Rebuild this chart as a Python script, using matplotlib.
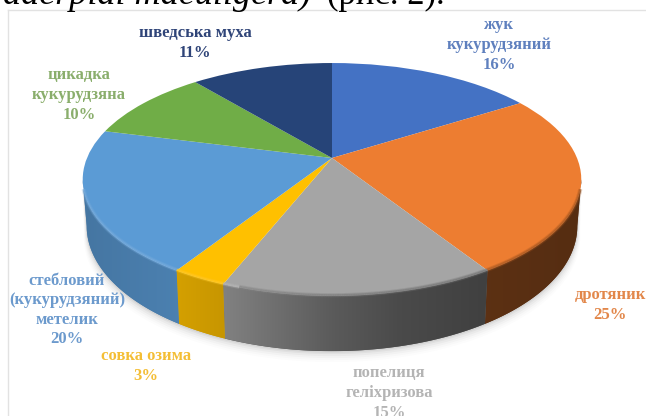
import numpy as np
import matplotlib
matplotlib.use("Agg")
import matplotlib.pyplot as plt
from matplotlib.collections import LineCollection
from matplotlib.patches import Polygon
from matplotlib.path import Path
from matplotlib.transforms import Transform

plt.rcParams["font.family"] = ["Liberation Serif", "DejaVu Serif"]

# Shares of maize pests, percent, clockwise from twelve o'clock
pests = ["жук\nкукурудзяний", "дротяник", "попелиця\nгеліхризова", "совка озима",
         "стебловий\n(кукурудзяний)\nметелик", "цикадка\nкукурудзяна", "шведська муха"]
shares = [16, 25, 15, 3, 20, 10, 11]
top_colors = ["#4472C4", "#ED7D31", "#A5A5A5", "#FFC000", "#5B9BD5", "#70AD47", "#264478"]
label_colors = ["#5F80BE", "#E2874A", "#B4B4B4", "#F4BE35", "#6C9ACD", "#8AAE6C", "#2F4478"]
label_anchors = [(499, 45), (610, 305), (389, 393), (146, 366), (67, 310), (79, 95), (195, 43)]

# Rim geometry of the tilted disc, in figure pixels
APEX_X, APEX_Y = 332.0, 158.0
RADIUS_X, RADIUS_Y = 245.0, 112.5
PERSPECTIVE = 0.1845
WALL = 45.0
BASE_SHRINK = 0.984

# Wall brightness against horizontal position
SHADE_X = [83, 180, 225, 332, 400, 483, 581]
SHADE_F = [0.76, 0.83, 0.78, 0.55, 0.45, 0.39, 0.36]

# Clockwise angles at which the rim reaches its widest points
SIDE_RIGHT = np.pi - np.arccos(PERSPECTIVE)
SIDE_LEFT = np.pi + np.arccos(PERSPECTIVE)
BEVEL_INSET = np.radians(5)


class TiltedDisc(Transform):
    """Projects the unit-circle plane of a pie onto the tilted disc in pixels."""
    input_dims = output_dims = 2

    def transform_non_affine(self, values):
        values = np.asarray(values, dtype=float)
        u, v = values[:, 0], values[:, 1]
        w = 1 + PERSPECTIVE * v
        return np.column_stack([APEX_X + RADIUS_X * u / w, APEX_Y - RADIUS_Y * v / w])

    def transform_path_non_affine(self, path):
        return Path(self.transform_non_affine(path.vertices), path.codes)


def rim(theta):
    """Top and bottom rim points for clockwise angles from twelve o'clock."""
    s, c = np.sin(theta), np.cos(theta)
    w = 1 + PERSPECTIVE * c
    x = APEX_X + RADIUS_X * s / w
    y = APEX_Y - RADIUS_Y * c / w
    xb = APEX_X + BASE_SHRINK * (x - APEX_X)
    yb = y + WALL / w
    return x, y, xb, yb


def tint(color, factor):
    rgb = np.array(matplotlib.colors.to_rgb(color))
    return tuple(np.clip(rgb * factor, 0, 1))


def mix_white(color, amount):
    rgb = np.array(matplotlib.colors.to_rgb(color))
    return tuple(rgb + (1 - rgb) * amount)


fig = plt.figure(figsize=(6.46, 4.16), dpi=100)
ax = fig.add_axes([0, 0, 1, 1])

wedges, _ = ax.pie(shares, colors=top_colors, startangle=90, counterclock=False,
                   radius=1, normalize=True)

disc = TiltedDisc() + ax.transData
for wedge in wedges:
    wedge.set_transform(disc)
    wedge.set_zorder(5)
    wedge.set_edgecolor("none")

# Clockwise wedge limits, taken from the pie itself
ends = [(np.radians(90 - w.theta2), np.radians(90 - w.theta1)) for w in wedges]

# Soft shadow under the front of the disc
front = np.linspace(SIDE_RIGHT, SIDE_LEFT, 240)
xt, yt, xb, yb = rim(front)
for grow, alpha in zip([11, 9, 7, 5, 3, 1.5], [0.012, 0.016, 0.022, 0.03, 0.04, 0.05]):
    cx = APEX_X + (xb - APEX_X) * (1 + grow / 900)
    pts = np.column_stack([np.r_[cx, xt[::-1]], np.r_[yb + grow, yt[::-1]]])
    ax.add_patch(Polygon(pts, closed=True, fc="black", ec="none", alpha=alpha, zorder=1))

# Wall: one clipped horizontal gradient per slice, tucked under the top face
for (t0, t1), color in zip(ends, top_colors):
    lo, hi = max(t0, SIDE_RIGHT), min(t1, SIDE_LEFT)
    if hi <= lo:
        continue
    th = np.linspace(lo, hi, 120)
    x, y, xb, yb = rim(th)
    outline = np.column_stack([np.r_[x, xb[::-1]], np.r_[y, yb[::-1]]])
    patch = Polygon(outline, closed=True, fc=tint(color, np.interp(x.mean(), SHADE_X, SHADE_F)),
                    ec="none", zorder=2.5)
    ax.add_patch(patch)
    left, right = outline[:, 0].min(), outline[:, 0].max()
    columns = np.linspace(left, right, 256)
    ramp = np.array([[tint(color, np.interp(c, SHADE_X, SHADE_F)) for c in columns]])
    image = ax.imshow(ramp, extent=(left, right, outline[:, 1].max(), outline[:, 1].min()),
                      aspect="auto", interpolation="bilinear", zorder=3)
    image.set_clip_path(patch)

# Bevel along the rim: lit towards the left, shaded towards the right
for (t0, t1), color in zip(ends, top_colors):
    lo, hi = max(t0, SIDE_RIGHT + BEVEL_INSET), min(t1, SIDE_LEFT - BEVEL_INSET)
    if hi <= lo:
        continue
    th = np.linspace(lo, hi, 160)
    x, y, _, _ = rim(th)
    segments = np.stack([np.column_stack([x[:-1], y[:-1] - 0.7]),
                         np.column_stack([x[1:], y[1:] - 0.7])], axis=1)
    tones = []
    for px in (x[:-1] + x[1:]) / 2:
        if px < 240:
            tones.append(mix_white(color, 0.18))
        else:
            tones.append(tint(color, 0.55 + 0.35 * np.interp(px, SHADE_X, SHADE_F)))
    for width, alpha in [(3.0, 0.3), (1.6, 0.6)]:
        ax.add_collection(LineCollection(segments, colors=tones, linewidths=width, alpha=alpha,
                                         capstyle="butt", zorder=6))

# Slice and percentage labels
for name, share, color, (lx, ly) in zip(pests, shares, label_colors, label_anchors):
    ax.text(lx, ly, f"{name}\n{share}%", color=color, fontsize=12, fontweight="bold",
            ha="center", va="center", linespacing=1.3, zorder=8)

# Frame of the inserted chart and the line of body text above it
ax.plot([8, 8], [10, 416], color="#E2E2E2", lw=1.0, zorder=0)
ax.plot([8, 646], [10, 10], color="#E2E2E2", lw=1.0, zorder=0)
ax.text(3, 4, "aderpial maculigera)", fontsize=26, style="italic", color="black",
        va="baseline", ha="left", zorder=8)
ax.text(327, 4, "(рис. 2).", fontsize=25, color="black", va="baseline", ha="left", zorder=8)

ax.set_aspect("auto")
ax.set_xlim(0, 646)
ax.set_ylim(416, 0)
ax.axis("off")

fig.savefig("out.png", dpi=100)
